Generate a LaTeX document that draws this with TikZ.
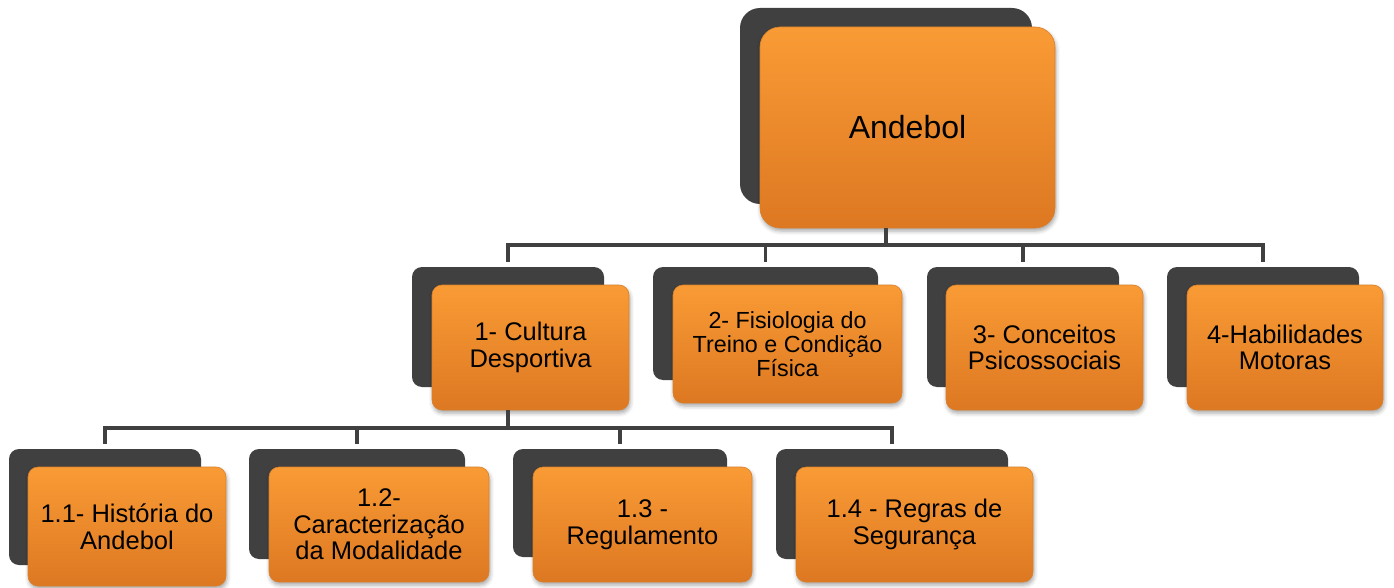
\documentclass[tikz,border=0pt]{standalone}
\usepackage{fontspec}
\setmainfont{Liberation Sans}
\usetikzlibrary{shadows.blur}
\definecolor{shadowgray}{HTML}{404040}
\definecolor{linegray}{HTML}{404040}
\definecolor{orTop}{HTML}{F99B35}
\definecolor{orBot}{HTML}{DD7822}
\definecolor{orEdge}{HTML}{D8802C}
\tikzset{
  shad/.style={fill=shadowgray, rounded corners=10pt, inner sep=0pt},
  box/.style={top color=orTop, bottom color=orBot, draw=orEdge, line width=0.6pt,
    rounded corners=10pt, align=center, inner sep=0pt, text=black,
    font=\fontsize{25.5}{26.5}\selectfont,
    blur shadow={shadow xshift=1pt, shadow yshift=-3pt, shadow blur radius=4pt, shadow opacity=35}},
  conn/.style={draw=linegray, line width=3.5pt},
}
\begin{document}
\begin{tikzpicture}[x=1pt, y=-1pt]
\useasboundingbox (0,0) rectangle (1394,588);
% root
\node[shad, minimum width=292pt, minimum height=196pt, rounded corners=20pt] (rootS) at (886,106) {};
\node[box, minimum width=295pt, minimum height=201pt, rounded corners=20pt, font=\fontsize{32}{38}\selectfont] (root) at (907.5,127.5) {Andebol};
% level 2
\node[shad, minimum width=192pt, minimum height=120pt] (aS) at (508,327) {};
\node[box, minimum width=197pt, minimum height=125pt] (a) at (530.5,347.5) {1- Cultura\\Desportiva};
\node[shad, minimum width=225pt, minimum height=113pt] (bS) at (765.5,323.5) {};
\node[box, minimum width=229pt, minimum height=118pt, font=\fontsize{23.3}{24.3}\selectfont] (b) at (787.5,344) {2- Fisiologia do\\Treino e Condição\\Física};
\node[shad, minimum width=192pt, minimum height=120pt] (cS) at (1023,327) {};
\node[box, minimum width=197pt, minimum height=125pt] (c) at (1044.5,347.5) {3- Conceitos\\Psicossociais};
\node[shad, minimum width=192pt, minimum height=120pt] (dS) at (1263,327) {};
\node[box, minimum width=196pt, minimum height=125pt] (d) at (1285,347.5) {4-Habilidades\\Motoras};
% level 3
\node[shad, minimum width=192pt, minimum height=116pt] (a1S) at (105,507) {};
\node[box, minimum width=198pt, minimum height=119pt] (a1) at (127,526.5) {1.1- História do\\Andebol};
\node[shad, minimum width=216pt, minimum height=110pt] (a2S) at (357,504) {};
\node[box, minimum width=220pt, minimum height=115pt] (a2) at (379,524.5) {1.2-\\Caracterização\\da Modalidade};
\node[shad, minimum width=214pt, minimum height=108pt] (a3S) at (620,503) {};
\node[box, minimum width=219pt, minimum height=115pt] (a3) at (642.5,524.5) {1.3 -\\Regulamento};
\node[shad, minimum width=232pt, minimum height=110pt] (a4S) at (892,504) {};
\node[box, minimum width=237pt, minimum height=115pt] (a4) at (914.5,524.5) {1.4 - Regras de\\Segurança};
% connectors level 1 -> 2
\coordinate (bus1) at (0,245);
\draw[conn] (root.south -| rootS.south) -- (bus1 -| rootS.south);
\draw[conn] ([yshift=5pt]aS.north) |- (bus1 -| dS.north) -- ([yshift=5pt]dS.north);
\draw[conn] (bus1 -| bS.north) -- ([yshift=5pt]bS.north);
\draw[conn] (bus1 -| cS.north) -- ([yshift=5pt]cS.north);
% connectors level 2 -> 3
\coordinate (bus2) at (0,428);
\draw[conn] (a.south -| aS.south) -- (bus2 -| aS.south);
\draw[conn] ([yshift=5pt]a1S.north) |- (bus2 -| a4S.north) -- ([yshift=5pt]a4S.north);
\draw[conn] (bus2 -| a2S.north) -- ([yshift=5pt]a2S.north);
\draw[conn] (bus2 -| a3S.north) -- ([yshift=5pt]a3S.north);
\end{tikzpicture}
\end{document}
